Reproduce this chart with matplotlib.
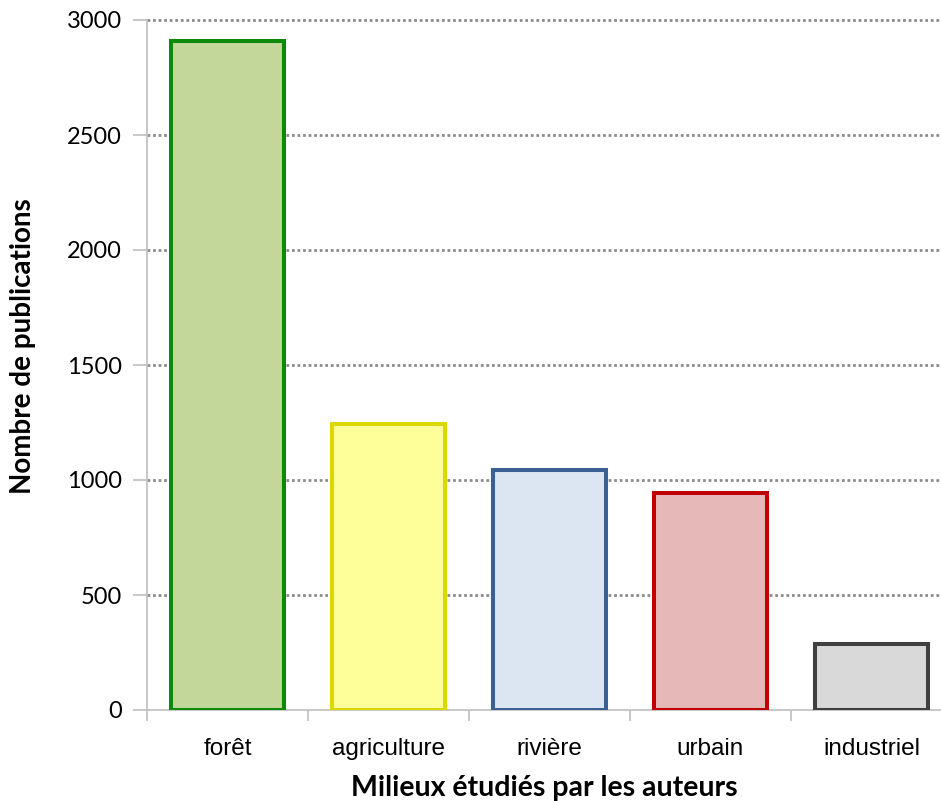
import matplotlib.pyplot as plt
from matplotlib.ticker import FixedLocator

categories = ["forêt", "agriculture", "rivière", "urbain", "industriel"]
publications = [2910, 1243, 1042, 942, 287]
yticks = [0, 500, 1000, 1500, 2000, 2500, 3000]

face_colors = ["#c4d79b", "#ffff99", "#dce6f2", "#e6b9b8", "#d9d9d9"]
edge_colors = ["#0b8a0b", "#ddd700", "#3a6094", "#c00000", "#404040"]

fig = plt.figure(figsize=(9.41, 8.01), dpi=100)
ax = fig.add_axes([147 / 941, 91 / 801, 794 / 941, 690 / 801])

x = range(len(categories))
ax.bar(x, publications, width=0.70, color=face_colors, edgecolor=edge_colors,
       linewidth=2.9, zorder=3)

ax.set_ylim(0, 3000)
ax.set_xlim(-0.5, -0.5 + 794 / 161)

# dotted grid lines, not on the zero line
for v in yticks[1:]:
    ax.axhline(v, color="#8c8c8c", linestyle=(0, (1, 1)), linewidth=2,
               zorder=1, clip_on=False)

ax.set_yticks(yticks)
ax.set_yticklabels([str(v) for v in yticks], fontsize=17, family="Lato")
ax.set_xticks(list(x))
ax.set_xticklabels(categories, fontsize=17.5, family="Liberation Sans")
ax.xaxis.set_minor_locator(FixedLocator([-0.5, 0.5, 1.5, 2.5, 3.5]))
ax.tick_params(axis="x", which="major", length=0, pad=20)
ax.tick_params(axis="x", which="minor", length=8, color="#bfbfbf", width=1.2)
ax.tick_params(axis="y", length=10, color="#bfbfbf", width=1.2, pad=8)

for side in ["top", "right"]:
    ax.spines[side].set_visible(False)
for side in ["left", "bottom"]:
    ax.spines[side].set_color("#bfbfbf")
    ax.spines[side].set_linewidth(1.2)

ax.set_ylabel("Nombre de publications", fontsize=20, fontweight="bold",
              family="Lato")
ax.yaxis.set_label_coords(-0.1395, 0.5275)
ax.set_xlabel("Milieux étudiés par les auteurs", fontsize=20.5, fontweight="bold",
              family="Lato", labelpad=11)

fig.savefig("out.png", dpi=100)
